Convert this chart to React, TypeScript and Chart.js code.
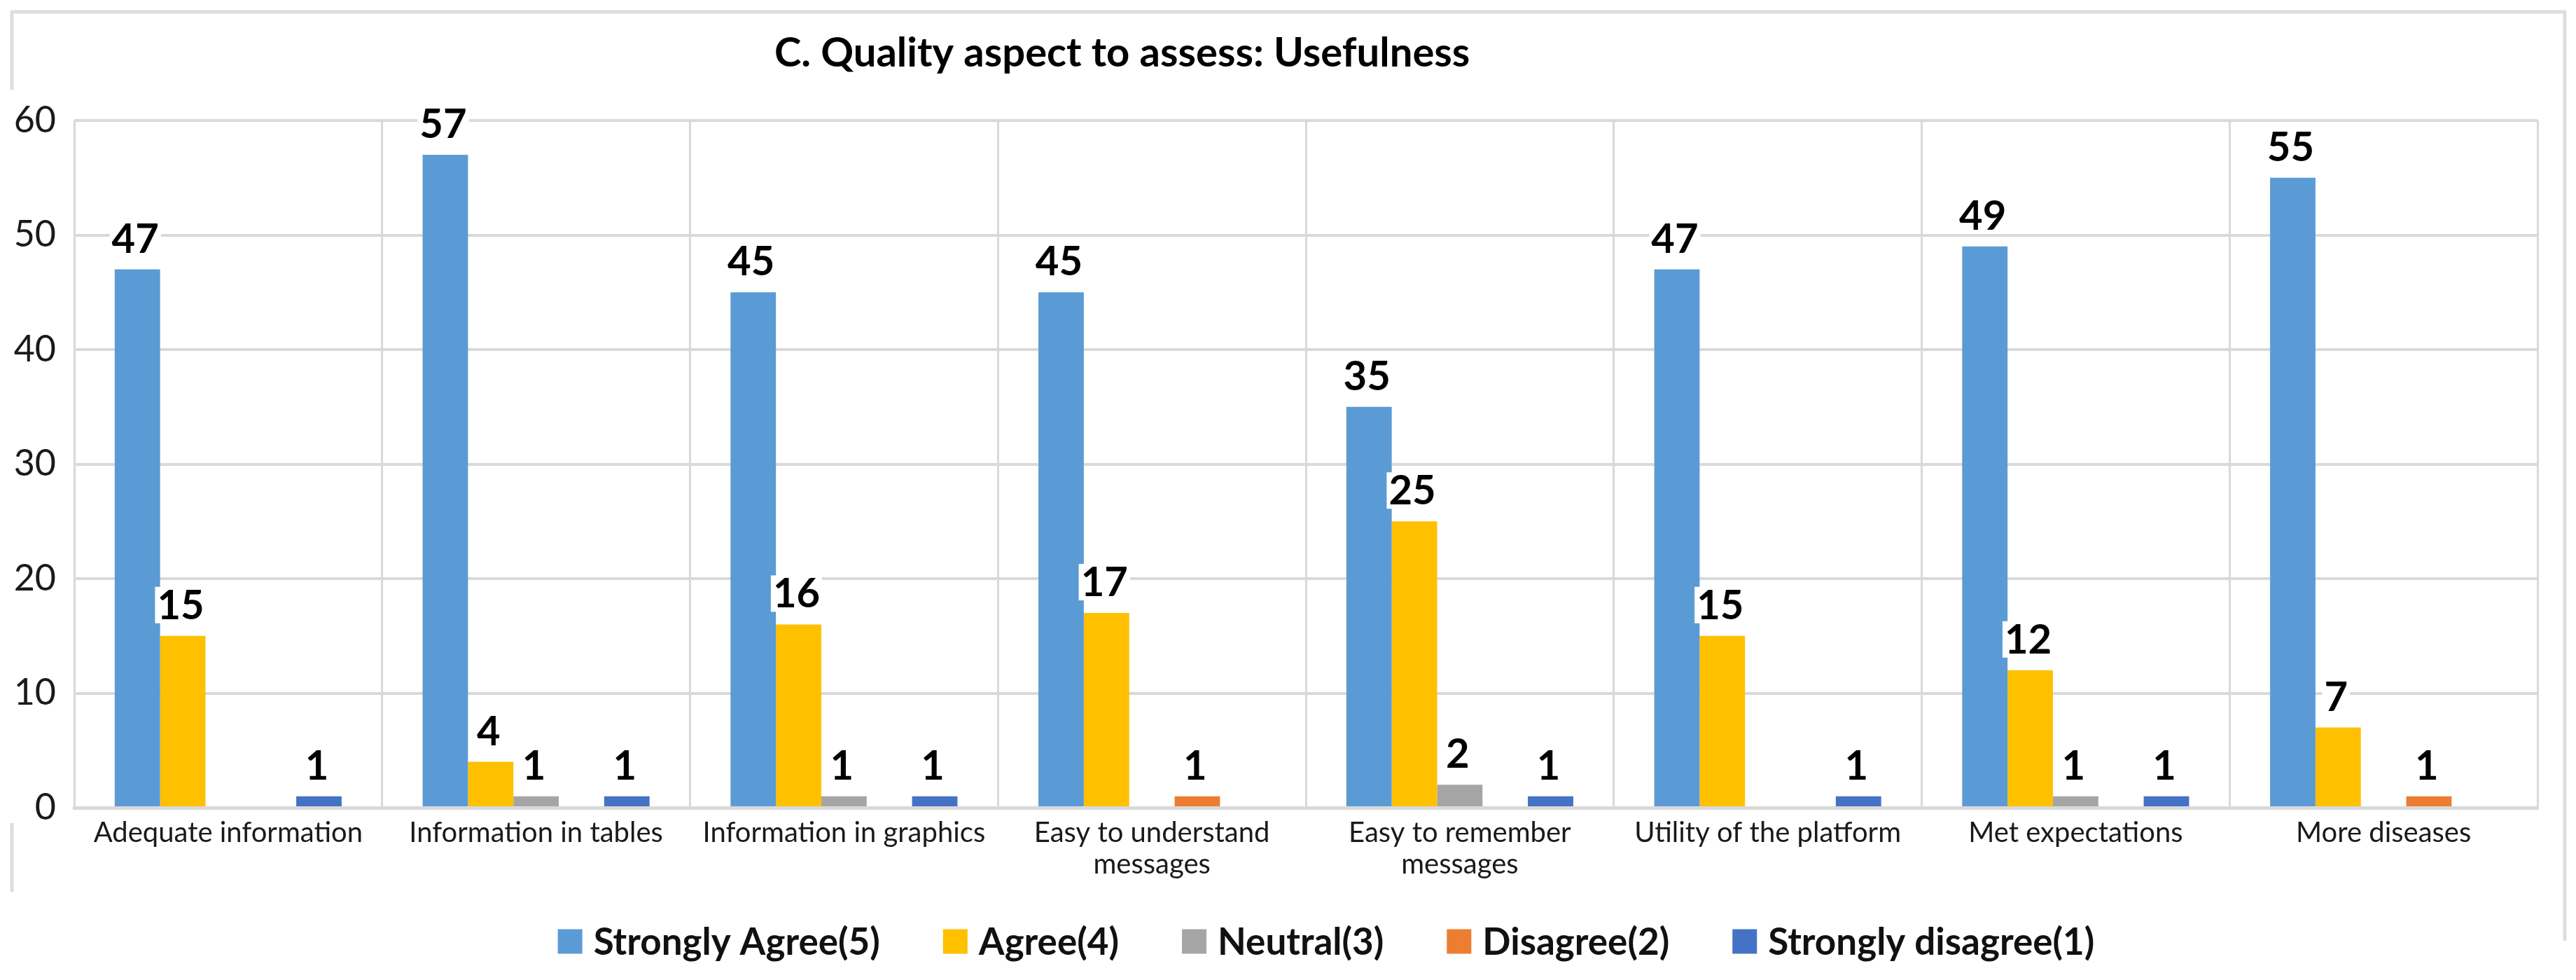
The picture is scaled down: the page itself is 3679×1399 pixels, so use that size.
import React, { useEffect, useRef } from "react";
import { Chart, registerables } from "chart.js";

Chart.register(...registerables);

const categories: (string | string[])[] = [
  "Adequate information",
  "Information in tables",
  "Information in graphics",
  ["Easy to understand", "messages"],
  ["Easy to remember", "messages"],
  "Utility of the platform",
  "Met expectations",
  "More diseases",
];

const seriesNames = [
  "Strongly Agree(5)",
  "Agree(4)",
  "Neutral(3)",
  "Disagree(2)",
  "Strongly disagree(1)",
];

const stronglyAgree = [47, 57, 45, 45, 35, 47, 49, 55];
const agree = [15, 4, 16, 17, 25, 15, 12, 7];
const neutral = [0, 1, 1, 0, 2, 0, 1, 0];
const disagree = [0, 0, 0, 1, 0, 0, 0, 1];
const stronglyDisagree = [1, 1, 1, 0, 1, 1, 1, 0];

const seriesColors = ["#5B9BD5", "#FFC000", "#A5A5A5", "#ED7D31", "#4472C4"];

const titleText = "C. Quality aspect to assess: Usefulness";

const yTicks = [0, 10, 20, 30, 40, 50, 60];

const W = 3663;
const H = 1383;
const FONT = "Lato, 'Open Sans', sans-serif";
const FRAME = "#DDDDDD";

const decorPlugin = {
  id: "decor",
  beforeDraw(chart: any) {
    const ctx = chart.ctx;
    ctx.save();
    ctx.fillStyle = "#ffffff";
    ctx.fillRect(0, 0, chart.width, chart.height);
    ctx.strokeStyle = FRAME;
    ctx.lineWidth = 5;
    ctx.beginPath();
    ctx.moveTo(7, 9);
    ctx.lineTo(3657, 9);
    ctx.moveTo(9, 9);
    ctx.lineTo(9, 120);
    ctx.moveTo(9, 1167);
    ctx.lineTo(9, 1265);
    ctx.moveTo(3655, 9);
    ctx.lineTo(3655, 1335);
    ctx.stroke();
    ctx.restore();
  },
  afterDraw(chart: any) {
    const ctx = chart.ctx;
    ctx.save();
    // title
    ctx.fillStyle = "#000000";
    ctx.font = `bold 58px ${FONT}`;
    ctx.textAlign = "left";
    ctx.textBaseline = "alphabetic";
    ctx.fillText(titleText, 1098, 87);

    // legend
    const ds = chart.data.datasets;
    ctx.font = `bold 53px ${FONT}`;
    const box = 35;
    const boxGap = 16;
    const itemGap = 90;
    const widths = ds.map((d: any) => ctx.measureText(d.label).width);
    let total = 0;
    widths.forEach((w: number, i: number) => {
      total += box + boxGap + w + (i < widths.length - 1 ? itemGap : 0);
    });
    let x = 1886 - total / 2;
    const cy = 1336;
    ds.forEach((d: any, i: number) => {
      ctx.fillStyle = d.backgroundColor;
      ctx.fillRect(x, cy - box / 2, box, box);
      ctx.fillStyle = "#111111";
      ctx.textBaseline = "middle";
      ctx.fillText(d.label, x + box + boxGap, cy + 2);
      x += box + boxGap + widths[i] + itemGap;
    });
    ctx.restore();
  },
  afterDatasetsDraw(chart: any) {
    const ctx = chart.ctx;
    ctx.save();
    ctx.font = `bold 58px ${FONT}`;
    ctx.textAlign = "center";
    ctx.textBaseline = "alphabetic";
    chart.data.datasets.forEach((d: any, di: number) => {
      const meta = chart.getDatasetMeta(di);
      meta.data.forEach((bar: any, i: number) => {
        const v = d.data[i];
        if (!v) return;
        const txt = String(v);
        const tw = ctx.measureText(txt).width;
        const baseY = bar.y - 24;
        ctx.fillStyle = "#ffffff";
        ctx.fillRect(bar.x - 3 - tw / 2 - 3, baseY - 46, tw + 6, 52);
        ctx.fillStyle = "#000000";
        ctx.fillText(txt, bar.x - 3, baseY);
      });
    });
    ctx.restore();
  },
};

export default function App() {
  const ref = useRef<HTMLCanvasElement | null>(null);
  useEffect(() => {
    if (!ref.current) return;
    const all = [stronglyAgree, agree, neutral, disagree, stronglyDisagree];
    const chart = new Chart(ref.current, {
      type: "bar",
      data: {
        labels: categories as any,
        datasets: all.map((vals, i) => ({
          label: seriesNames[i],
          data: vals,
          backgroundColor: seriesColors[i],
          borderWidth: 0,
          categoryPercentage: 0.737,
          barPercentage: 1,
        })),
      },
      options: {
        animation: false,
        responsive: false,
        devicePixelRatio: 1,
        layout: { padding: { top: 164, left: 0, right: 47, bottom: 0 } },
        plugins: {
          legend: { display: false },
          title: { display: false },
          tooltip: { enabled: false },
        },
        scales: {
          x: {
            grid: {
              color: "#D9D9D9",
              lineWidth: 3,
              drawTicks: false,
              offset: true,
            },
            border: { display: true, color: "#D9D9D9", width: 5 },
            ticks: {
              autoSkip: false,
              maxRotation: 0,
              minRotation: 0,
              padding: 14,
              color: "#1a1a1a",
              font: { family: FONT, size: 40, lineHeight: 1.12 },
            },
            afterFit(scale: any) {
              scale.height = 238;
            },
          },
          y: {
            min: 0,
            max: 60,
            afterBuildTicks(scale: any) {
              scale.ticks = yTicks.map((v) => ({ value: v }));
            },
            grid: { color: "#D9D9D9", lineWidth: 4, drawTicks: false },
            border: { display: false },
            ticks: {
              padding: 26,
              color: "#1a1a1a",
              font: { family: FONT, size: 52 },
            },
            afterFit(scale: any) {
              scale.width = 98;
            },
          },
        },
      },
      plugins: [decorPlugin],
    });
    return () => chart.destroy();
  }, []);
  return (
    <div style={{ width: W, height: H }}>
      <canvas
        ref={ref}
        width={W}
        height={H}
        style={{ display: "block", width: W, height: H }}
      />
    </div>
  );
}
